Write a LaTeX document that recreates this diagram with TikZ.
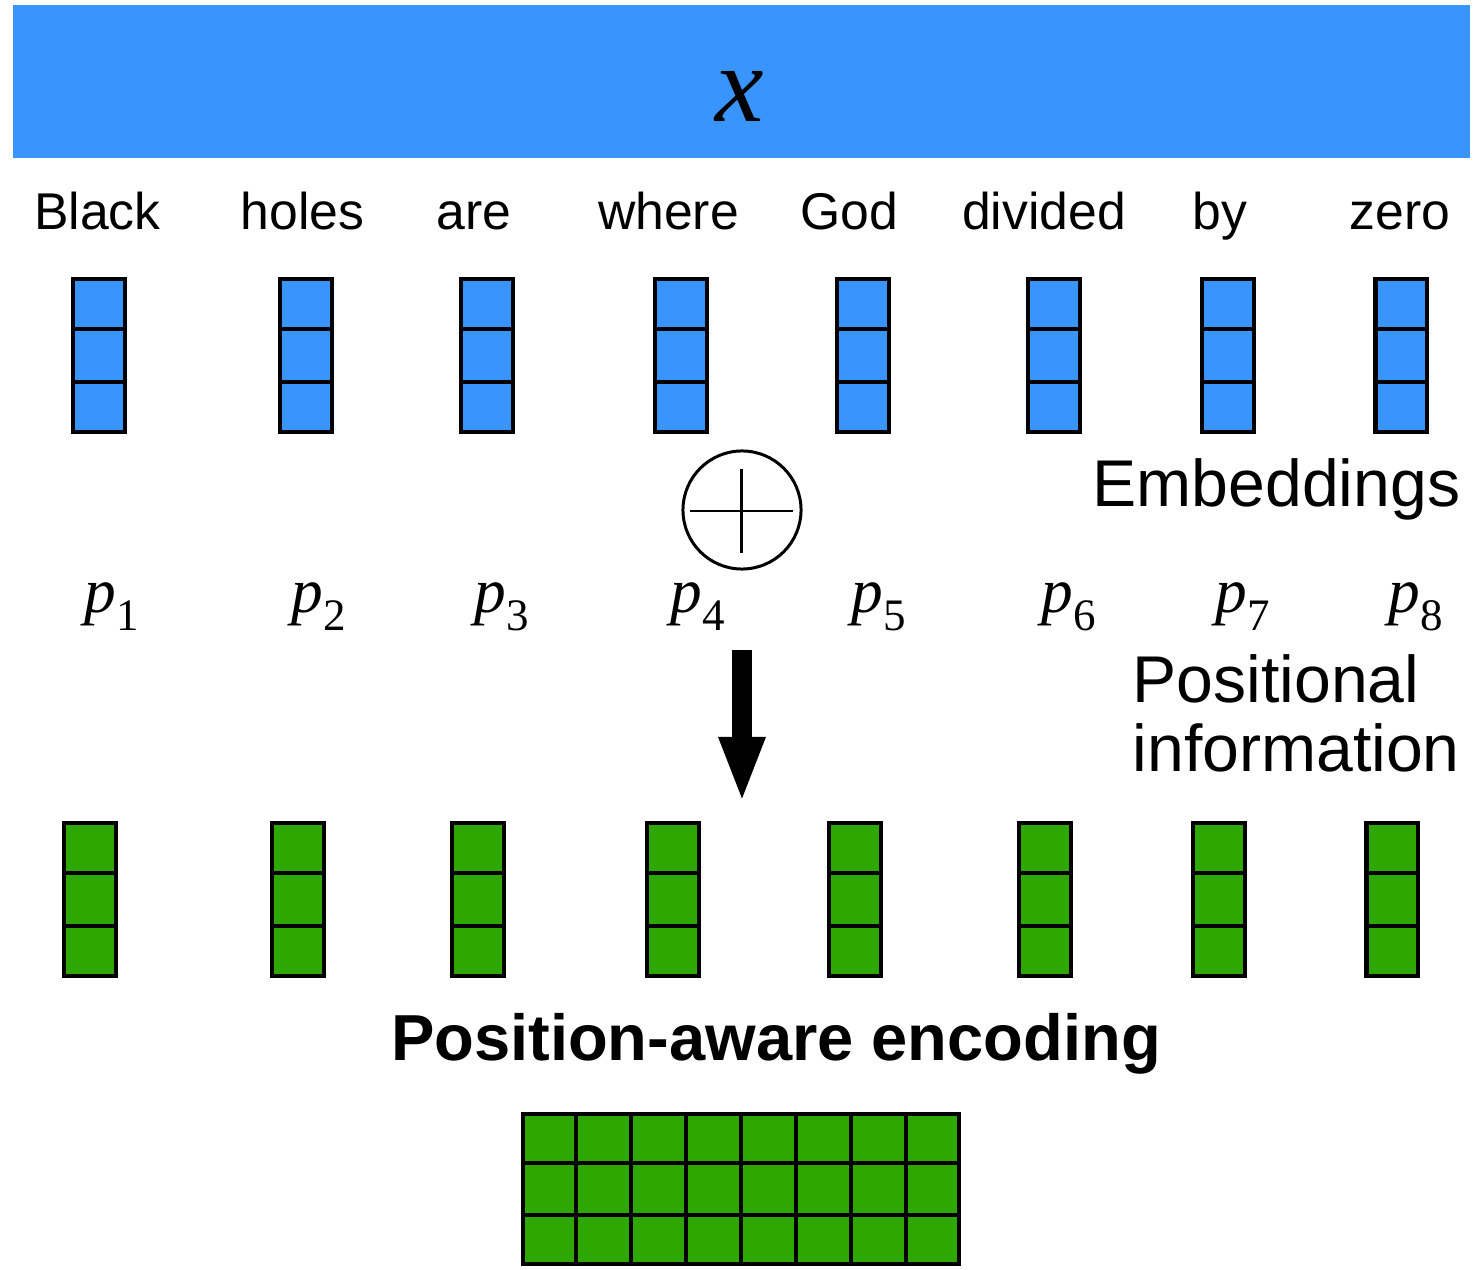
\documentclass[tikz,border=0pt]{standalone}
\usepackage{fontspec}
\setmainfont{Liberation Sans}
\newfontfamily\serifit{Liberation Serif}
\usetikzlibrary{arrows.meta,calc}
\definecolor{eblue}{RGB}{58,148,254}
\definecolor{egreen}{RGB}{46,168,0}
\newcommand\pvar[1]{{\serifit\fontsize{18}{20}\selectfont\textit{p}\raisebox{-0.17cm}{\fontsize{12.8}{14}\selectfont #1}}}
\tikzset{
  barbox/.style={fill=eblue, draw=none, minimum width=14.57cm, minimum height=1.53cm, inner sep=0},
  word/.style={anchor=base, inner sep=0, font=\fontsize{14.7}{16}\selectfont},
  vecbox/.style={draw=black, line width=1.14pt, minimum width=0.51cm, minimum height=1.52cm, inner sep=0},
  cellline/.style={draw=black, line width=1.14pt},
  bigtext/.style={inner sep=0, font=\fontsize{18.8}{19.9}\selectfont},
  thinline/.style={draw=black, line width=0.85pt}
}
\begin{document}
\begin{tikzpicture}[x=0.01cm, y=-0.01cm]
\path[use as bounding box] (0,0) rectangle (1484,1270);
% top bar
\node[barbox] (bar) at (741.5,81.5) {};
\node[anchor=base, inner sep=0, font=\serifit\itshape\fontsize{31}{32}\selectfont] (xlab) at (740,122) {x};
% words
\foreach \w/\x [count=\i] in {Black/97.5, holes/302.5, are/474, where/668.5, God/849.5, divided/1044, by/1220, zero/1400}
  \node[word] (w\i) at (\x,230) {\w};
% embeddings
\foreach \x [count=\i] in {99,306,487,681,863,1054,1228,1401} {
  \node[vecbox, fill=eblue] (e\i) at (\x,355.5) {};
  \draw[cellline] ($(e\i.north west)!1/3!(e\i.south west)$) -- ($(e\i.north east)!1/3!(e\i.south east)$);
  \draw[cellline] ($(e\i.north west)!2/3!(e\i.south west)$) -- ($(e\i.north east)!2/3!(e\i.south east)$);
}
\node[bigtext, anchor=base west] (emb) at (1092,507) {Embeddings};
% plus
\node[circle, draw=black, line width=0.85pt, minimum size=1.18cm, inner sep=0] (plus) at (742,510) {};
\draw[thinline] ($(plus.center)+(-52,1)$) -- ($(plus.center)+(51,1)$);
\draw[thinline] ($(plus.center)+(-1,-41)$) -- ($(plus.center)+(-1,43)$);
% positional
\foreach \x [count=\i] in {84,291,474,670,851,1041,1215,1388}
  \node[anchor=base west, inner sep=0] (p\i) at (\x,613) {\pvar{\i}};
\node[bigtext, anchor=base west, align=left] (posinfo) at (1132,772) {Positional\\information};
% arrow
\coordinate (atop) at (742,650);
\coordinate (atip) at (742,803);
\draw[line width=0.2cm, -{Triangle[width=0.42cm,length=0.66cm]}] (atop) -- (atip);
% green vectors
\foreach \x [count=\i] in {90,298,478,673,855,1045,1219,1392} {
  \node[vecbox, fill=egreen] (g\i) at (\x,899.5) {};
  \draw[cellline] ($(g\i.north west)!1/3!(g\i.south west)$) -- ($(g\i.north east)!1/3!(g\i.south east)$);
  \draw[cellline] ($(g\i.north west)!2/3!(g\i.south west)$) -- ($(g\i.north east)!2/3!(g\i.south east)$);
}
\node[inner sep=0, anchor=base, font=\bfseries\fontsize{18.5}{20}\selectfont] (title) at (776,1060) {Position-aware encoding};
% matrix
\node[vecbox, fill=egreen, minimum width=4.36cm, minimum height=1.5cm] (grid) at (741,1189) {};
\foreach \k in {1,...,7}
  \draw[cellline] ($(grid.north west)!\k/8!(grid.north east)$) -- ($(grid.south west)!\k/8!(grid.south east)$);
\foreach \k in {1,2}
  \draw[cellline] ($(grid.north west)!\k/3!(grid.south west)$) -- ($(grid.north east)!\k/3!(grid.south east)$);
\end{tikzpicture}
\end{document}
